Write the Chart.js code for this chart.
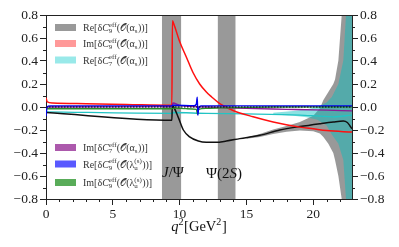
<!DOCTYPE html>
<html>
<head>
<meta charset="utf-8">
<script src="https://cdn.jsdelivr.net/npm/chart.js@4.4.1/dist/chart.umd.min.js"></script>
<style>
  html, body { margin: 0; padding: 0; background: #fff; }
  canvas { display: block; }
</style>
</head>
<body>
<canvas id="chart" width="399" height="247"></canvas>
<script>
// --- axes ---
const xTicks = [0, 5, 10, 15, 20];
const xMinor = [1, 2, 3, 4, 6, 7, 8, 9, 11, 12, 13, 14, 16, 17, 18, 19, 21, 22];
const yTicks = [-0.8, -0.6, -0.4, -0.2, 0, 0.2, 0.4, 0.6, 0.8];
const yMinor = [-0.7, -0.5, -0.3, -0.1, 0.1, 0.3, 0.5, 0.7];

// resonance windows, q^2 in GeV^2
const jpsiBand = [8.68, 10.11];
const psi2sBand = [12.86, 14.18];

// Re[dC9eff(O(alpha_s))]
const q2ReC9as = [0, 9.42, 9.45, 9.55, 9.9, 10.28, 10.75, 11.4, 12.0, 12.7, 13.5, 14.5, 16.0, 17.5, 19.0, 20.5, 21.5, 22.25, 22.55, 22.75, 22.9];
const reC9as = [-0.048, -0.115, 0.01, 0.0, -0.09, -0.2, -0.26, -0.296, -0.307, -0.307, -0.296, -0.275, -0.246, -0.2, -0.17, -0.145, -0.13, -0.122, -0.135, -0.165, -0.19];

// Im[dC9eff(O(alpha_s))]
const q2ImC9as = [0, 0.1, 0.5, 3, 6, 9.42, 9.46, 9.6, 10.0, 10.5, 11.0, 11.5, 12.0, 12.4, 13.0, 14.0, 15.5, 17.0, 19.0, 20.0, 21.0, 22.9];
const imC9as = [0.08, 0.045, 0.035, 0.028, 0.022, 0.015, 0.75, 0.71, 0.57, 0.435, 0.3, 0.2, 0.13, 0.087, 0.03, -0.03, -0.085, -0.13, -0.175, -0.19, -0.205, -0.218];

// Re[dC7eff(O(alpha_s))]
const q2ReC7as = [0, 9.42, 9.46, 12, 15, 19, 20.5, 21.5, 22.9];
const reC7as = [-0.042, -0.055, -0.048, -0.056, -0.06, -0.07, -0.08, -0.085, -0.07];

// Im[dC7eff(O(alpha_s))]
const q2ImC7as = [0, 9.42, 9.5, 10.0, 12.0, 15.0, 18.0, 21.0, 22.9];
const imC7as = [0.0, 0.003, 0.035, 0.015, 0.0, -0.012, -0.02, -0.028, -0.033];

// Re[dC9eff(O(lambda_u))]
const q2ReC9lu = [0, 0.08, 0.3, 9.4, 9.5, 11.1, 11.25, 11.32, 11.36, 11.42, 11.6, 22.9];
const reC9lu = [-0.08, 0.0, 0.01, 0.01, 0.015, 0.012, 0.025, 0.085, -0.07, -0.015, 0.01, 0.01];

// Im[dC9eff(O(lambda_u))]
const q2ImC9lu = [0, 9.4, 9.5, 10.5, 11.25, 11.34, 11.42, 12.0, 14.0, 17.0, 22.9];
const imC9lu = [-0.015, -0.015, -0.01, -0.015, -0.02, -0.065, -0.02, -0.012, -0.005, 0.0, 0.002];

const q2Zero = [0, 22.9];
const zeroLine = [0, 0];

// uncertainty bands near the endpoint
const q2BandC9 = [15, 16, 17, 18, 19, 20, 20.5, 20.76, 21.13, 21.5, 21.63, 21.88, 22.13, 22.45, 22.9];
const bandC9Hi = [-0.265, -0.235, -0.195, -0.165, -0.13, -0.075, -0.01, 0.06, 0.13, 0.2, 0.24, 0.405, 0.8, 2, 6];
const bandC9Lo = [-0.275, -0.26, -0.235, -0.215, -0.205, -0.21, -0.23, -0.26, -0.32, -0.4, -0.46, -0.6, -0.8, -2, -6];

const q2BandC7 = [17, 18.5, 19.5, 20.3, 21.0, 21.39, 21.88, 22.25, 22.45, 22.65, 22.9];
const bandC7Hi = [-0.05, -0.035, -0.02, 0.0, 0.04, 0.087, 0.2, 0.405, 0.8, 2, 6];
const bandC7Lo = [-0.065, -0.075, -0.09, -0.11, -0.16, -0.24, -0.32, -0.46, -0.8, -2, -6];

const AXIS = '#222';
const SERIF = "'Liberation Serif', 'DejaVu Serif', serif";
const tickFont = { family: SERIF, size: 13.5 };

const pts = (xs, ys) => xs.map((x, i) => ({ x, y: ys[i] }));
const fmtY = v => (v < -1e-9 ? '\u2212' : '') + Math.abs(v).toFixed(1);

function line(data, color, width, order, extra) {
    return Object.assign({
        data, borderColor: color, borderWidth: width, pointRadius: 0,
        fill: false, order, cubicInterpolationMode: 'monotone'
    }, extra || {});
}

// draws text with sub/superscripts, returns end x
function richText(ctx, x, y, parts, size, dry) {
    parts.forEach(p => {
        if (p.t) {
            ctx.font = `${p.i ? 'italic ' : ''}${size}px ${SERIF}`;
            if (!dry) ctx.fillText(p.t, x, y);
            x += ctx.measureText(p.t).width;
        } else {
            const s = size * 0.7;
            ctx.font = `${s}px ${SERIF}`;
            let w = 0;
            if (p.sup) { if (!dry) ctx.fillText(p.sup, x, y - size * 0.42); w = ctx.measureText(p.sup).width; }
            if (p.sub) { if (!dry) ctx.fillText(p.sub, x, y + size * 0.24); w = Math.max(w, ctx.measureText(p.sub).width); }
            x += w + size * 0.04;
        }
    });
    return x;
}

const argAs = [{ t: '\u{1D4AA}(\u03B1' }, { sub: 's' }, { t: ')' }];
const argLu = [{ t: '\u{1D4AA}(\u03BB' }, { sup: '(s)', sub: 'u' }, { t: ')' }];
const coef = (part, idx, arg) => [{ t: part + '[\u03B4' }, { t: 'C', i: 1 }, { sup: 'eff', sub: idx }, { t: '(' }, ...arg, { t: ')]' }];

const legendRows = [
    { y: 27.5, color: 'rgba(128,128,128,0.8)', parts: coef('Re', '9', argAs) },
    { y: 43.5, color: 'rgba(255,0,0,0.4)', parts: coef('Im', '9', argAs) },
    { y: 60, color: 'rgba(0,200,200,0.4)', parts: coef('Re', '7', argAs) },
    { y: 147.5, color: 'rgba(128,0,128,0.65)', parts: coef('Im', '7', argAs) },
    { y: 164, color: 'rgba(0,0,255,0.65)', parts: coef('Re', '9', argLu) },
    { y: 182.5, color: 'rgba(0,128,0,0.65)', parts: coef('Im', '9', argLu) }
];

const overlay = {
    id: 'overlay',
    beforeDatasetsDraw(chart) {
        const { ctx, chartArea: a, scales: { x } } = chart;
        ctx.save();
        ctx.fillStyle = 'rgba(128,128,128,0.8)';
        [jpsiBand, psi2sBand].forEach(([lo, hi]) => {
            const x0 = x.getPixelForValue(lo), x1 = x.getPixelForValue(hi);
            ctx.fillRect(x0, a.top, x1 - x0, a.bottom - a.top);
        });
        ctx.restore();
    },
    afterDraw(chart) {
        const { ctx, chartArea: a, scales: { x, y } } = chart;
        ctx.save();
        // top frame
        ctx.strokeStyle = AXIS;
        ctx.lineWidth = 1;
        ctx.beginPath();
        ctx.moveTo(a.left, Math.round(a.top) + 0.5);
        ctx.lineTo(a.right, Math.round(a.top) + 0.5);
        // minor ticks
        xMinor.forEach(v => {
            const px = Math.round(x.getPixelForValue(v)) + 0.5;
            ctx.moveTo(px, a.bottom); ctx.lineTo(px, a.bottom + 3);
        });
        yMinor.forEach(v => {
            const py = Math.round(y.getPixelForValue(v)) + 0.5;
            ctx.moveTo(a.left - 3, py); ctx.lineTo(a.left, py);
            ctx.moveTo(a.right, py); ctx.lineTo(a.right + 3, py);
        });
        ctx.stroke();

        // legend
        ctx.textBaseline = 'alphabetic';
        ctx.textAlign = 'left';
        legendRows.forEach(r => {
            ctx.fillStyle = r.color;
            ctx.fillRect(55, r.y - 3.5, 21, 7);
            ctx.fillStyle = '#333';
            richText(ctx, 83, r.y + 3.5, r.parts, 10);
        });

        // resonance labels
        ctx.fillStyle = '#111';
        richText(ctx, 162, 177, [{ t: 'J', i: 1 }, { t: '/\u03A8' }], 15);
        richText(ctx, 206, 178, [{ t: '\u03A8(2' }, { t: 'S', i: 1 }, { t: ')' }], 15);

        // x title
        const title = [{ t: 'q', i: 1 }, { sup: '2' }, { t: '[GeV' }, { sup: '2' }, { t: ']' }];
        const w = richText(ctx, 0, 0, title, 14.5, true);
        richText(ctx, (a.left + a.right) / 2 - w / 2, 231, title, 14.5);
        ctx.restore();
    }
};

const yAxis = (pos, width) => ({
    type: 'linear', position: pos, min: -0.8, max: 0.8,
    afterBuildTicks: s => { s.ticks = yTicks.map(v => ({ value: v })); },
    afterFit: s => { s.width = width; },
    grid: { drawOnChartArea: false, tickLength: 6, color: AXIS },
    border: { color: AXIS, width: 1 },
    ticks: { font: tickFont, color: '#222', padding: 2, callback: v => fmtY(v) }
});

new Chart(document.getElementById('chart'), {
    type: 'line',
    data: {
        datasets: [
            line(pts(q2BandC9, bandC9Hi), 'rgba(0,0,0,0)', 0, 20, { fill: '+1', backgroundColor: 'rgba(128,128,128,0.8)', cubicInterpolationMode: 'default' }),
            line(pts(q2BandC9, bandC9Lo), 'rgba(0,0,0,0)', 0, 20, { cubicInterpolationMode: 'default' }),
            line(pts(q2BandC7, bandC7Hi), 'rgba(0,0,0,0)', 0, 18, { fill: '+1', backgroundColor: 'rgba(0,190,190,0.45)', cubicInterpolationMode: 'default' }),
            line(pts(q2BandC7, bandC7Lo), 'rgba(0,0,0,0)', 0, 18, { cubicInterpolationMode: 'default' }),
            line(pts(q2ReC7as, reC7as), '#22c4c4', 1.3, 9),
            line(pts(q2ReC9as, reC9as), '#111', 1.5, 7),
            line(pts(q2ImC9as, imC9as), '#ff1010', 1.5, 6),
            line(pts(q2ImC7as, imC7as), '#8a1a96', 1.3, 5),
            line(pts(q2ImC9lu, imC9lu), '#2a8f2a', 1.3, 4),
            line(pts(q2ReC9lu, reC9lu), '#0000ee', 1.4, 3),
            line(pts(q2Zero, zeroLine), '#000', 1.2, 1, { borderDash: [1.5, 1.5] })
        ]
    },
    options: {
        responsive: false,
        animation: false,
        devicePixelRatio: 1,
        layout: { padding: { top: 15, left: 0, right: 0, bottom: 0 } },
        plugins: { legend: { display: false }, tooltip: { enabled: false } },
        scales: {
            x: {
                type: 'linear', min: 0, max: 22.9,
                afterBuildTicks: s => { s.ticks = xTicks.map(v => ({ value: v })); },
                afterFit: s => { s.height = 48; },
                grid: { drawOnChartArea: false, tickLength: 6, color: AXIS },
                border: { color: AXIS, width: 1 },
                ticks: { font: tickFont, color: '#222', padding: 1, maxRotation: 0, callback: v => String(v) }
            },
            y: yAxis('left', 46),
            y2: yAxis('right', 47)
        }
    },
    plugins: [overlay]
});
</script>
</body>
</html>
